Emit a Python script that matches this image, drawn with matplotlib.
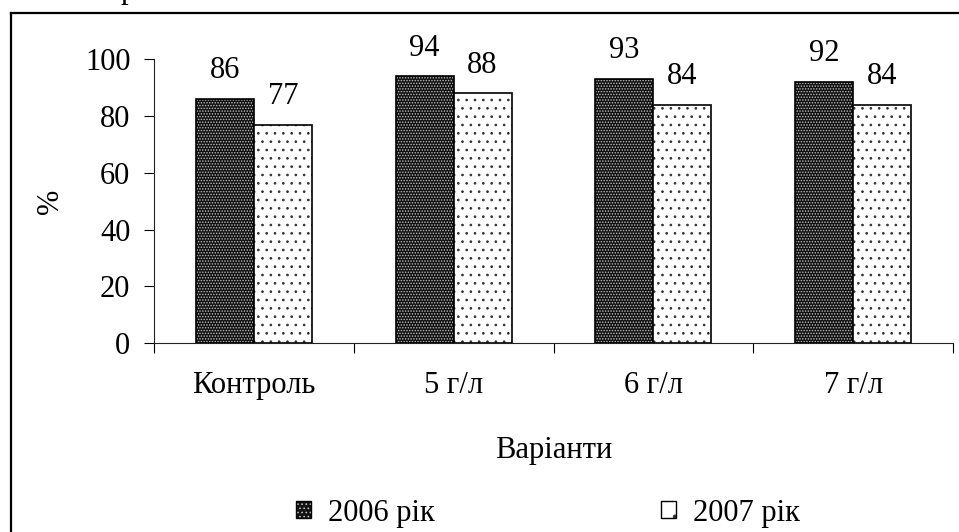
import matplotlib
matplotlib.use("Agg")
import matplotlib.pyplot as plt
from matplotlib.lines import Line2D
from matplotlib.patches import Patch
from matplotlib.legend_handler import HandlerTuple
import numpy as np

categories = ["Контроль", "5 г/л", "6 г/л", "7 г/л"]
values_2006 = [86, 94, 93, 92]
values_2007 = [77, 88, 84, 84]
series_labels = ["2006 рік", "2007 рік"]
y_ticks = [0, 20, 40, 60, 80, 100]

plt.rcParams["font.family"] = ["Liberation Serif", "DejaVu Serif"]
plt.rcParams["font.size"] = 22
plt.rcParams["hatch.linewidth"] = 0.7

DARK_FACE = "#111111"
DARK_DOTS = "#bdbdbd"

fig = plt.figure(figsize=(9.59, 5.32), dpi=100)
ax = fig.add_axes([154 / 959, 1 - 343 / 532, 799 / 959, 283.6 / 532])

x = np.arange(len(categories))
w = 0.29

# dark bars: black fill with fine light dot grid, then a black outline on top
ax.bar(x - w / 2, values_2006, w, color=DARK_FACE, edgecolor=DARK_DOTS,
       hatch="......", linewidth=0)
ax.bar(x - w / 2, values_2006, w, fill=False, edgecolor="black", linewidth=1.2)
# light bars: white fill with sparse black dots
ax.bar(x + w / 2, values_2007, w, color="white", edgecolor="#333333",
       hatch="..", linewidth=0)
ax.bar(x + w / 2, values_2007, w, fill=False, edgecolor="black", linewidth=1.2)

for xi, v in zip(x - w / 2, values_2006):
    ax.annotate(str(v), (xi, v), xytext=(0, 15), textcoords="offset points",
                ha="center", va="baseline")
for xi, v in zip(x + w / 2, values_2007):
    ax.annotate(str(v), (xi, v), xytext=(0, 15), textcoords="offset points",
                ha="center", va="baseline")

ax.set_xlim(-0.5, len(categories) - 0.5)
ax.set_ylim(0, 100)
ax.set_yticks(y_ticks)
ax.tick_params(axis="y", direction="out", length=7, width=0.8, pad=10)

ax.set_xticks(np.arange(len(categories) + 1) - 0.5)
ax.set_xticklabels([])
ax.tick_params(axis="x", which="major", direction="out", length=7, width=0.8)
ax.set_xticks(x, minor=True)
ax.set_xticklabels(categories, minor=True)
ax.tick_params(axis="x", which="minor", length=0, pad=20)

for side in ["top", "right"]:
    ax.spines[side].set_visible(False)
for side in ["left", "bottom"]:
    ax.spines[side].set_linewidth(0.8)
    ax.spines[side].set_color("#222222")

ax.set_ylabel("%")
ax.yaxis.set_label_coords(-0.112, 0.5)
ax.set_xlabel("Варіанти")
ax.xaxis.set_label_coords(0.5, -0.327)

h1 = (Patch(facecolor=DARK_FACE, edgecolor=DARK_DOTS, hatch="....", linewidth=0),
      Patch(fill=False, edgecolor="black", linewidth=1.0))
h2 = (Patch(facecolor="white", edgecolor="#333333", hatch=".", linewidth=0),
      Patch(fill=False, edgecolor="black", linewidth=1.0))
fig.legend([h1, h2], series_labels, loc="center", bbox_to_anchor=(0.571, 0.0357),
           ncol=2, frameon=False, handlelength=0.5, handleheight=0.5,
           handletextpad=0.55, columnspacing=7.4, borderpad=0,
           handler_map={tuple: HandlerTuple(ndivide=1)})

# outer frame (top and left edges visible in the crop)
fx = 10.5 / 959
fy = 1 - 12.5 / 532
fig.add_artist(Line2D([fx, fx], [0, fy], transform=fig.transFigure, color="black", lw=1.6))
fig.add_artist(Line2D([fx, 1], [fy, fy], transform=fig.transFigure, color="black", lw=1.6))

# clipped caption fragment above the frame
fig.text(121 / 959, 1 + 2 / 532, "р", ha="left", va="baseline")

fig.savefig("out.png", dpi=100)
